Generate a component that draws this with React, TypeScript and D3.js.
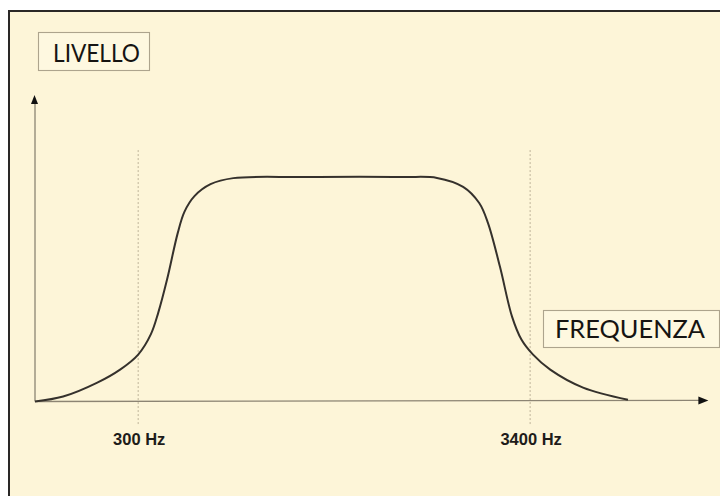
import { useRef, useEffect } from 'react';
import * as d3 from 'd3';

// curve, in axis units (x: 0..100 along the axis, y: 0..100 = plateau)
const curveX = [0, 4.2, 9.3, 12.7, 15.4, 17.3, 18.4, 19.7, 21.3, 22.3, 23.8, 26.2, 29.6, 40, 55, 60, 63.9, 66.3, 67.6, 69.4, 71.2, 72.6, 74.3, 76.9, 81.8, 88.5];
const curveY = [0, 2.2, 8.4, 14.2, 20.9, 30, 39.6, 54.2, 75, 84.5, 91.5, 96.8, 99.5, 100, 100, 99.6, 95.6, 88.4, 79.6, 60, 37.8, 27.6, 21, 14.2, 6.2, 0.8];

const markerLabels = ['300 Hz', '3400 Hz'];
const markerPos = [15.4, 73.9];

const yLabel = 'LIVELLO';
const xLabel = 'FREQUENZA';

const W = 720;
const H = 499;

export default function App() {
  const svgRef = useRef<SVGSVGElement>(null);

  useEffect(() => {
    const svg = svgRef.current;
    if (!svg) return;

    const x = d3.scaleLinear().domain([0, 100]).range([35, 705]);
    const y = d3.scaleLinear().domain([0, 100]).range([401.5, 177]);

    const root = d3.select(svg);
    root.selectAll('*').remove();

    // paper + frame
    root.append('rect').attr('x', 0).attr('y', 0).attr('width', W).attr('height', H).attr('fill', '#ffffff');
    root.append('rect').attr('x', 9).attr('y', 11).attr('width', W - 9).attr('height', 485).attr('fill', '#fdf5d8');
    root.append('line').attr('x1', 9).attr('x2', 9).attr('y1', 10).attr('y2', 496).attr('stroke', '#2a2826').attr('stroke-width', 2);
    root.append('line').attr('x1', 8).attr('x2', W).attr('y1', 11).attr('y2', 11).attr('stroke', '#2a2826').attr('stroke-width', 2);

    const g = root.append('g');

    // dotted markers
    markerPos.forEach((p, i) => {
      g.append('line').attr('x1', x(p)).attr('x2', x(p)).attr('y1', y(112)).attr('y2', y(-10.5))
        .attr('stroke', '#bfb49a').attr('stroke-width', 1).attr('stroke-dasharray', '2,2');
      g.append('text').attr('x', x(p) + 1).attr('y', 444.5).attr('text-anchor', 'middle')
        .attr('font-family', 'Liberation Sans, Arial, sans-serif').attr('font-weight', 700).attr('font-size', '16.5px')
        .attr('fill', '#1e1c1a').text(markerLabels[i]);
    });

    // axes
    g.append('line').attr('x1', x(0)).attr('x2', x(0)).attr('y1', y(0)).attr('y2', y(134))
      .attr('stroke', '#8c8473').attr('stroke-width', 1.3);
    g.append('line').attr('x1', x(0)).attr('x2', x(99.5)).attr('y1', y(0)).attr('y2', y(0.5))
      .attr('stroke', '#8c8473').attr('stroke-width', 1.3);
    const ay = y(136.5);
    g.append('path').attr('d', `M${x(0) - 0.5},${ay} l-3.5,9 h7 z`).attr('fill', '#111');
    const ax = x(100.5);
    g.append('path').attr('d', `M${ax},${y(0.5)} l-10,-4 v8 z`).attr('fill', '#111');

    // curve
    const pts = curveX.map((v, i) => [v, curveY[i]] as [number, number]);
    const line = d3.line<[number, number]>().x(d => x(d[0])).y(d => y(d[1])).curve(d3.curveCatmullRom.alpha(0.5));
    g.append('path').datum(pts).attr('d', line).attr('fill', 'none')
      .attr('stroke', '#35312c').attr('stroke-width', 2);

    // label boxes
    const box = (bx: number, by: number, bw: number, bh: number, tx: number, tb: number, tw: number, txt: string) => {
      g.append('rect').attr('x', bx).attr('y', by).attr('width', bw).attr('height', bh)
        .attr('fill', '#fef8e0').attr('stroke', '#ada48d').attr('stroke-width', 1.1);
      g.append('text').attr('x', tx).attr('y', tb).attr('textLength', tw).attr('lengthAdjust', 'spacingAndGlyphs')
        .attr('font-family', 'Lato, sans-serif').attr('font-size', '25px').attr('fill', '#161412').text(txt);
    };
    box(38.5, 32.5, 111, 38, 53, 62, 87, yLabel);
    box(543.5, 310.5, 176, 37, 555, 338, 150, xLabel);
  }, []);

  return (
    <div style={{ position: 'absolute', left: 0, top: 0 }}>
      <svg ref={svgRef} width={W} height={H} style={{ display: 'block' }} />
    </div>
  );
}
